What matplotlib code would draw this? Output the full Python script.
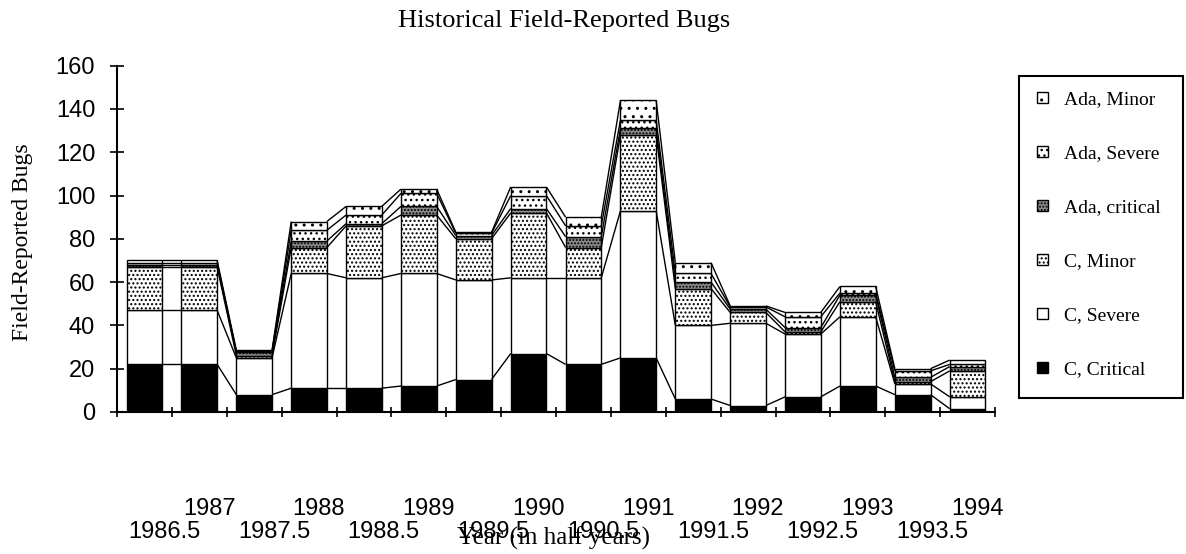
import numpy as np
import matplotlib
matplotlib.use("Agg")
import matplotlib.pyplot as plt
from matplotlib.collections import LineCollection
from matplotlib.patches import Rectangle
import matplotlib.transforms as mtransforms

# half-year categories
periods = ["1986.5", "1987", "1987.5", "1988", "1988.5", "1989", "1989.5", "1990",
           "1990.5", "1991", "1991.5", "1992", "1992.5", "1993", "1993.5", "1994"]

# bug counts per series (bottom to top of the stack)
c_critical = [22, 22, 8, 11, 11, 12, 15, 27, 22, 25, 6, 3, 7, 12, 8, 1.5]
c_severe = [25, 25, 17, 53, 51, 52, 46, 35, 40, 68, 34, 38, 29, 32, 5, 5.5]
c_minor = [20, 20, 1, 12, 24, 27, 19, 30, 14, 35, 17, 5, 1, 7, 1, 12]
ada_critical = [1, 1, 1.5, 3, 1, 4, 1.5, 2, 5, 3, 3, 1.5, 2, 3, 2, 2]
ada_severe = [1, 1, 0.5, 5, 4, 6, 1, 6, 5, 4, 4, 1, 5, 1, 3, 1]
ada_minor = [1, 1, 0.5, 4, 4, 2, 0.5, 4, 4, 9, 5, 0.5, 2, 3, 1, 2]

series_names = ["C, Critical", "C, Severe", "C, Minor",
                "Ada, critical", "Ada, Severe", "Ada, Minor"]
series_vals = [c_critical, c_severe, c_minor, ada_critical, ada_severe, ada_minor]
faces = ["black", "white", "white", "#8c8c8c", "white", "white"]
hatches = [None, None, "....", ".....", "...", ".."]

serif = "Liberation Serif"
sans = "Liberation Sans"
plt.rcParams["hatch.linewidth"] = 1.0

fig = plt.figure(figsize=(11.86, 5.54), dpi=100)
ax = fig.add_axes([117 / 1186, 142 / 554, 878 / 1186, 346.3 / 554])

x = np.arange(len(periods))
w = 0.65
bottom = np.zeros(len(periods))
tops = []
for vals, face, hatch in zip(series_vals, faces, hatches):
    vals = np.array(vals, dtype=float)
    ax.bar(x, vals, width=w, bottom=bottom, color=face, edgecolor="black",
           hatch=hatch, linewidth=1.0, zorder=2)
    bottom = bottom + vals
    tops.append(bottom.copy())

# series lines joining the segment tops between neighbouring bars
segs = []
for top in tops:
    for i in range(len(x) - 1):
        segs.append([(x[i] + w / 2, top[i]), (x[i + 1] - w / 2, top[i + 1])])
ax.add_collection(LineCollection(segs, colors="black", linewidths=1.0, zorder=3))

ax.set_xlim(-0.5, len(periods) - 0.5)
ax.set_ylim(0, 160)

for s in ["top", "right"]:
    ax.spines[s].set_visible(False)
for s in ["left", "bottom"]:
    ax.spines[s].set_linewidth(1.5)

ax.set_yticks(np.arange(0, 161, 20))
ax.tick_params(axis="y", direction="inout", length=9.5, width=1.2, pad=11,
               labelsize=17)
for lab in ax.get_yticklabels():
    lab.set_fontfamily(sans)

ax.set_xticks(np.arange(-0.5, len(periods), 1.0))
ax.set_xticklabels([])
ax.tick_params(axis="x", direction="inout", length=7, width=1.2)

# staggered category labels, two rows
trans = mtransforms.blended_transform_factory(ax.transData, ax.transAxes)
for i, lab in enumerate(periods):
    if i % 2 == 0:
        off, yy = 0.36, -0.3638
    else:
        off, yy = 0.18, -0.2974
    ax.text(x[i] + off, yy, lab, transform=trans, ha="center", va="baseline",
            fontsize=17, family=sans)

ax.set_title("Historical Field-Reported Bugs", family=serif, fontsize=19,
             x=0.509, pad=28)
ax.set_xlabel("Year (in half years)", family=serif, fontsize=18)
ax.xaxis.set_label_coords(0.497, -0.332)
ax.set_ylabel("Field-Reported Bugs", family=serif, fontsize=17)
ax.yaxis.set_label_coords(-0.0957, 0.491)

# legend box drawn by hand to follow the original layout
W, H = 1186, 554
fig.patches.append(Rectangle((1019 / W, 1 - 398 / H), 164 / W, 322 / H,
                             transform=fig.transFigure, facecolor="white",
                             edgecolor="black", linewidth=1.5))
order = [5, 4, 3, 2, 1, 0]
sq = 11
for k, idx in enumerate(order):
    yc = 100 + 54 * k
    fig.patches.append(Rectangle((1037 / W, 1 - (yc - 3 + sq / 2) / H), sq / W, sq / H,
                                 transform=fig.transFigure, facecolor=faces[idx],
                                 edgecolor="black", hatch=hatches[idx], linewidth=1.0))
    fig.text(1064 / W, 1 - yc / H, series_names[idx], family=serif,
             fontsize=14, va="center", ha="left")

fig.savefig("out.png", dpi=100)
